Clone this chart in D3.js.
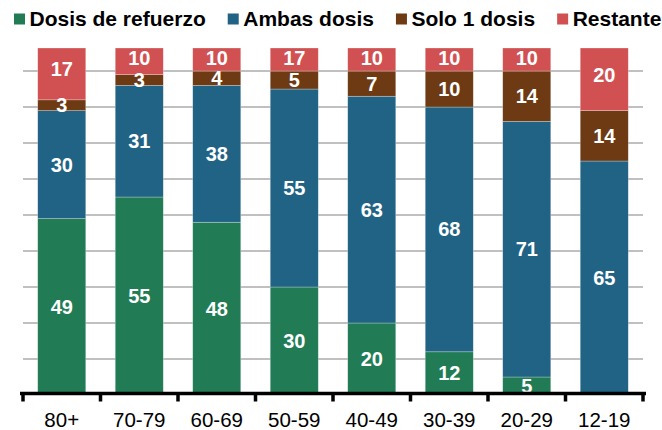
<!DOCTYPE html>
<html>
<head>
<meta charset="utf-8">
<script src="https://cdn.jsdelivr.net/npm/d3@7"></script>
<style>
  body { margin: 0; background: #fff; }
  svg { display: block; font-family: "Liberation Sans", Arial, sans-serif; }
</style>
</head>
<body>
<div id="chart"></div>
<script>
const categories = ["80+", "70-79", "60-69", "50-59", "40-49", "30-39", "20-29", "12-19"];
const refuerzo = [49, 55, 48, 30, 20, 12, 5, 0];
const ambas = [30, 31, 38, 55, 63, 68, 71, 65];
const solo1 = [3, 3, 4, 5, 7, 10, 14, 14];
const restante = [17, 10, 10, 17, 10, 10, 10, 20];

const seriesNames = ["Dosis de refuerzo", "Ambas dosis", "Solo 1 dosis", "Restante"];
const seriesKeys = ["refuerzo", "ambas", "solo1", "restante"];
const yTicks = [10, 20, 30, 40, 50, 60, 70, 80, 90];

function colorBySeries(key) {
  switch (key) {
    case "refuerzo": return "#217c55";
    case "ambas": return "#216384";
    case "solo1": return "#6d3a14";
    case "restante": return "#d15152";
    default: return "#cccccc";
  }
}

const width = 662, height = 430;
const plotLeft = 23, plotRight = 643, plotTop = 48, plotBottom = 395;

const rows = categories.map((c, i) => ({
  cat: c,
  refuerzo: refuerzo[i],
  ambas: ambas[i],
  solo1: solo1[i],
  restante: restante[i]
}));

const svg = d3.select("#chart").append("svg")
  .attr("width", width)
  .attr("height", height);

const x = d3.scaleBand()
  .domain(categories)
  .range([plotLeft, plotRight])
  .paddingInner(0.38)
  .paddingOuter(0.19);

// the plot is cut at ~96.4 so the top segments get clipped
const yRaw = d3.scaleLinear().domain([0, 96.4]).range([plotBottom, plotTop]);
const y = yRaw.copy().clamp(true);

// gridlines
svg.append("g").selectAll("line")
  .data(yTicks)
  .enter()
  .append("line")
  .attr("x1", plotLeft).attr("x2", plotRight)
  .attr("y1", d => y(d)).attr("y2", d => y(d))
  .attr("stroke", "#c0c0c0")
  .attr("stroke-width", 2);

const stacked = d3.stack().keys(seriesKeys)(rows);

const layers = svg.append("g").selectAll("g")
  .data(stacked)
  .enter()
  .append("g")
  .attr("fill", d => colorBySeries(d.key));

layers.selectAll("rect")
  .data(d => d)
  .enter()
  .append("rect")
  .attr("x", d => x(d.data.cat))
  .attr("width", x.bandwidth())
  .attr("y", d => y(d[1]))
  .attr("height", d => Math.max(0, y(d[0]) - y(d[1])))
  .attr("stroke", "rgba(255,255,255,0.45)")
  .attr("stroke-width", 0.6);

// value labels
const labelGroup = svg.append("g");
stacked.forEach(layer => {
  layer.forEach(d => {
    const v = d[1] - d[0];
    if (!v) return;
    let cy = (yRaw(d[0]) + yRaw(d[1])) / 2;
    cy = Math.max(cy, plotTop + 9.5);
    labelGroup.append("text")
      .attr("x", x(d.data.cat) + x.bandwidth() / 2)
      .attr("y", cy + 7)
      .attr("text-anchor", "middle")
      .attr("fill", "#fff")
      .attr("font-weight", "bold")
      .attr("font-size", "20px")
      .text(v);
  });
});

// x axis
const gap = x.step() - x.bandwidth();
const boundaries = categories.map(c => x(c) - gap / 2).concat([plotRight]);

svg.append("line")
  .attr("x1", plotLeft - 3).attr("x2", plotRight + 3)
  .attr("y1", plotBottom - 1.5).attr("y2", plotBottom - 1.5)
  .attr("stroke", "#000")
  .attr("stroke-width", 3.5);

svg.append("g").selectAll("line")
  .data(boundaries)
  .enter()
  .append("line")
  .attr("x1", d => d).attr("x2", d => d)
  .attr("y1", plotBottom - 2).attr("y2", plotBottom + 6.5)
  .attr("stroke", "#000")
  .attr("stroke-width", 3.5);

svg.append("g").selectAll("text")
  .data(categories)
  .enter()
  .append("text")
  .attr("x", d => x(d) + x.bandwidth() / 2)
  .attr("y", 427)
  .attr("text-anchor", "middle")
  .attr("font-size", "20.5px")
  .attr("fill", "#000")
  .text(d => d);

// legend
const legend = svg.append("g");
let lx = 14;
seriesKeys.forEach((k, i) => {
  legend.append("rect")
    .attr("x", lx).attr("y", 13.5)
    .attr("width", 11).attr("height", 11)
    .attr("fill", colorBySeries(k));
  const t = legend.append("text")
    .attr("x", lx + 15.5)
    .attr("y", 26)
    .attr("font-size", "21px")
    .attr("font-weight", "bold")
    .attr("fill", "#000")
    .text(seriesNames[i]);
  lx = lx + 15.5 + t.node().getComputedTextLength() + 22;
});
</script>
</body>
</html>
